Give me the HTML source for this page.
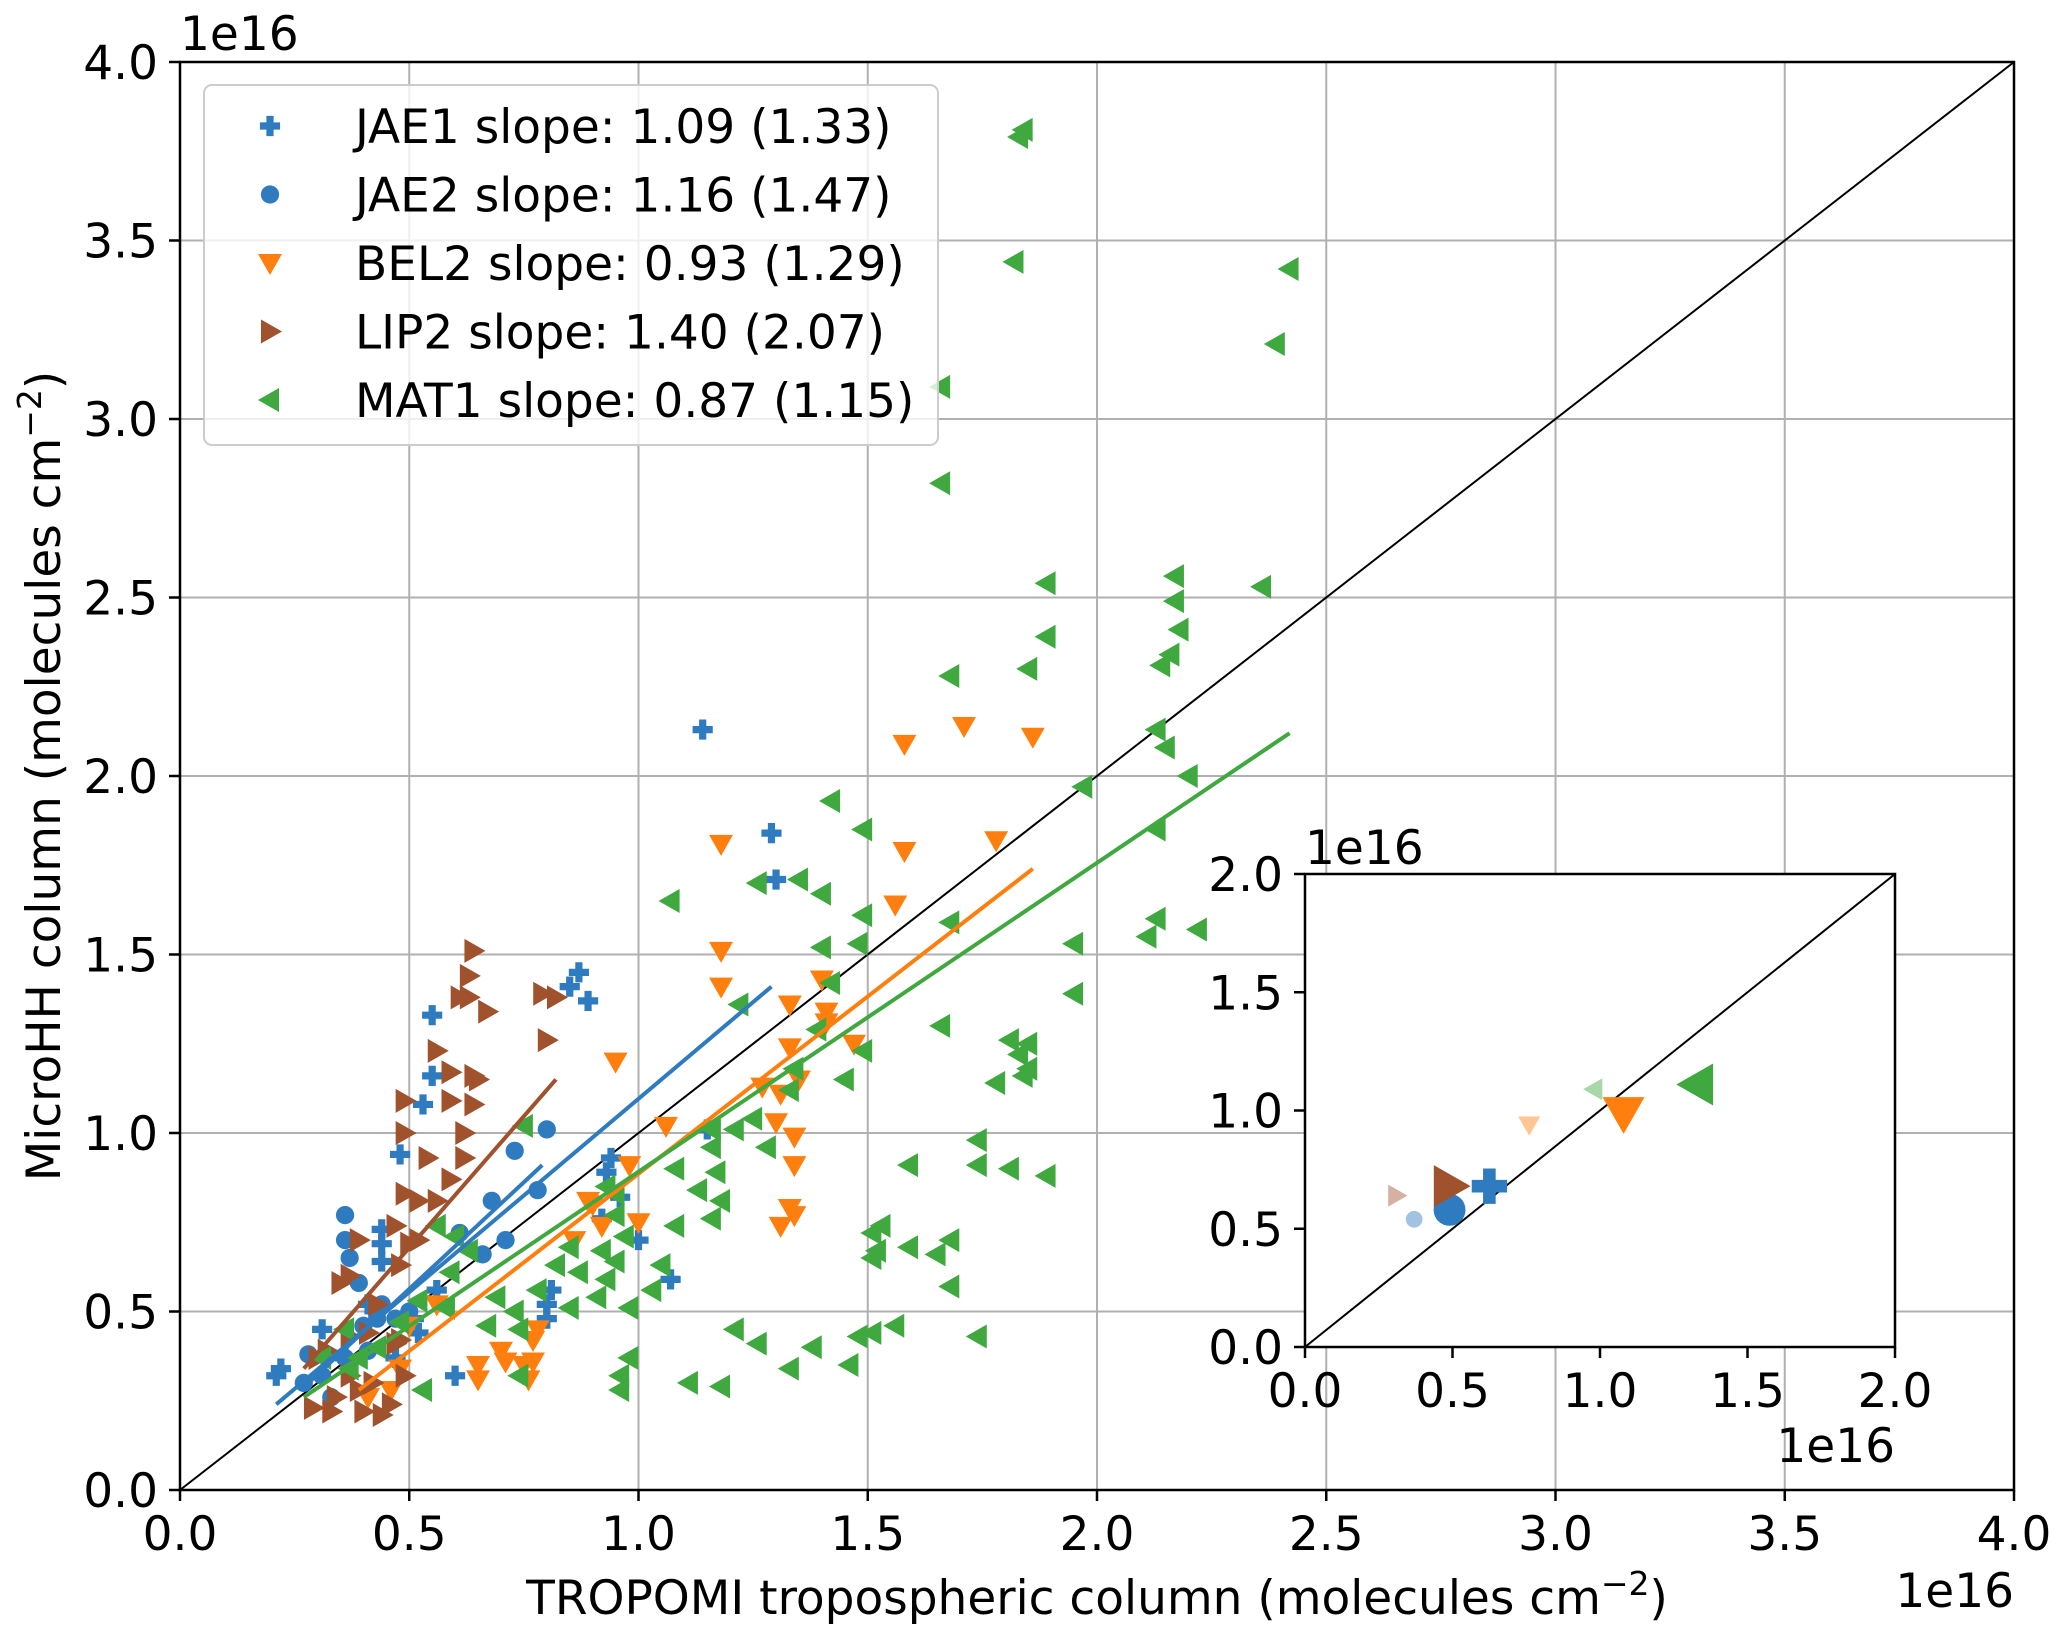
<!DOCTYPE html>
<html><head><meta charset="utf-8"><style>
body{margin:0;background:#fff}
svg{display:block;font-family:"DejaVu Sans","Liberation Sans",sans-serif}
</style></head><body>
<svg id="chart" width="2067" height="1643" viewBox="0 0 2067 1643" xmlns="http://www.w3.org/2000/svg">
<rect width="2067" height="1643" fill="#fff"/>
<g id="main"></g>
<g id="inset"></g>
</svg>
<script>
const ticks = [0,0.5,1.0,1.5,2.0,2.5,3.0,3.5,4.0];
const insetTicks = [0,0.5,1.0,1.5,2.0];
const jae1X=[1.14,1.29,1.30,0.87,0.85,0.89,0.55,0.55,0.53,0.48,1.15,0.94,0.93,0.96,0.92,1.00,0.44,0.44,0.44,0.60,1.07,0.81,0.80,0.80,0.21,0.22,0.36,0.47,0.52,0.31,0.41,0.56,0.51];
const jae1Y=[2.13,1.84,1.71,1.45,1.41,1.37,1.33,1.16,1.08,0.94,1.01,0.93,0.89,0.82,0.76,0.70,0.73,0.69,0.64,0.32,0.59,0.56,0.52,0.48,0.32,0.34,0.37,0.37,0.44,0.45,0.52,0.56,0.48];
const jae2X=[0.80,0.73,0.78,0.68,0.36,0.36,0.61,0.71,0.66,0.37,0.39,0.44,0.43,0.40,0.47,0.50,0.36,0.28,0.31,0.27,0.33,0.41];
const jae2Y=[1.01,0.95,0.84,0.81,0.77,0.70,0.72,0.70,0.66,0.65,0.58,0.52,0.48,0.46,0.48,0.50,0.37,0.38,0.32,0.30,0.26,0.39];
const bel2X=[1.71,1.86,1.58,1.78,1.18,1.58,1.56,1.18,1.18,1.40,1.33,1.41,1.41,1.33,1.47,0.95,1.35,1.27,1.31,1.30,1.06,0.98,0.89,1.34,1.34,1.33,1.34,1.31,0.92,0.90,0.86,0.70,0.65,0.71,0.76,0.77,0.77,0.56,0.50,0.48,0.46,0.41,0.78,0.75,0.65,1.00];
const bel2Y=[2.14,2.11,2.09,1.82,1.81,1.79,1.64,1.51,1.41,1.43,1.36,1.34,1.31,1.24,1.25,1.20,1.15,1.13,1.11,1.03,1.02,0.91,0.81,0.99,0.91,0.79,0.77,0.74,0.74,0.80,0.70,0.39,0.31,0.36,0.31,0.36,0.42,0.52,0.46,0.34,0.28,0.26,0.45,0.35,0.35,0.75];
const lip2X=[0.64,0.63,0.63,0.61,0.79,0.82,0.67,0.80,0.56,0.59,0.64,0.65,0.49,0.64,0.59,0.49,0.62,0.54,0.62,0.59,0.56,0.52,0.49,0.47,0.52,0.50,0.39,0.37,0.35,0.48,0.43,0.48,0.41,0.37,0.30,0.37,0.29,0.33,0.40,0.44,0.46,0.34,0.39,0.47,0.49,0.42,0.32];
const lip2Y=[1.51,1.44,1.38,1.38,1.39,1.38,1.34,1.26,1.23,1.17,1.16,1.15,1.09,1.08,1.09,1.00,1.00,0.93,0.93,0.87,0.81,0.81,0.83,0.74,0.70,0.69,0.70,0.60,0.58,0.63,0.52,0.42,0.44,0.43,0.37,0.32,0.23,0.22,0.22,0.21,0.24,0.26,0.28,0.41,0.32,0.30,0.39];
const mat1X=[1.84,1.83,1.82,2.42,2.39,1.66,1.66,1.89,2.36,2.17,1.89,2.17,2.18,2.16,2.14,1.68,1.85,2.13,2.15,2.20,1.97,1.42,1.49,1.07,1.26,1.40,1.35,2.13,2.13,1.49,2.22,2.11,1.95,1.68,1.40,1.48,1.95,1.42,1.22,1.39,1.66,1.49,1.34,1.45,1.81,1.85,1.83,1.85,1.84,1.78,1.33,1.25,1.16,1.21,1.28,1.74,1.74,1.81,1.89,1.59,1.17,1.08,1.13,1.18,1.16,1.08,0.95,0.93,0.95,0.97,0.92,0.95,0.85,0.82,1.05,0.87,0.93,0.78,0.73,0.74,0.67,0.69,0.58,0.52,0.48,0.43,0.39,0.31,0.37,0.53,1.51,1.53,1.52,1.51,1.59,1.68,1.65,1.74,1.56,1.51,1.48,1.46,1.38,1.33,1.26,1.21,1.18,1.11,0.98,0.96,0.96,0.74,0.91,0.98,1.03,0.85,1.16,1.68,0.75,0.60,0.63,0.59,0.56,0.36];
const mat1Y=[3.81,3.79,3.44,3.42,3.21,3.09,2.82,2.54,2.53,2.56,2.39,2.49,2.41,2.34,2.31,2.28,2.30,2.13,2.08,2.00,1.97,1.93,1.85,1.65,1.70,1.67,1.71,1.85,1.60,1.61,1.57,1.55,1.53,1.59,1.52,1.53,1.39,1.42,1.36,1.29,1.30,1.23,1.18,1.15,1.26,1.25,1.22,1.18,1.16,1.14,1.12,1.04,1.01,1.01,0.96,0.98,0.91,0.90,0.88,0.91,0.89,0.90,0.84,0.81,0.76,0.74,0.83,0.85,0.77,0.71,0.67,0.64,0.68,0.63,0.63,0.61,0.59,0.56,0.50,0.45,0.46,0.54,0.51,0.53,0.47,0.40,0.37,0.37,0.34,0.28,0.72,0.74,0.67,0.65,0.68,0.70,0.66,0.43,0.46,0.44,0.43,0.35,0.40,0.34,0.41,0.45,0.29,0.30,0.37,0.28,0.32,0.32,0.54,0.51,0.56,0.51,0.96,0.57,1.02,0.71,0.67,0.61,0.74,0.45];
const fitJae1X=[0.21,1.29], fitJae1Y=[0.24,1.41];
const fitJae2X=[0.28,0.79], fitJae2Y=[0.30,0.91];
const fitBel2X=[0.39,1.86], fitBel2Y=[0.28,1.74];
const fitLip2X=[0.27,0.82], fitLip2Y=[0.34,1.15];
const fitMat1X=[0.27,2.42], fitMat1Y=[0.26,2.12];
const insetX=[0.37,0.31,0.76,0.98, 0.625,0.49,0.49,1.08,1.33];
const insetY=[0.54,0.64,0.94,1.09, 0.68,0.58,0.68,0.99,1.11];
const insetSeries=['jae2','lip2','bel2','mat1','jae1','jae2','lip2','bel2','mat1'];
const insetBig=[0,0,0,0,1,1,1,1,1];

const NS='http://www.w3.org/2000/svg';
const FS=47;
const COL={jae1:'#2f7bbf',jae2:'#2f7bbf',bel2:'#ff7f0e',lip2:'#a0522d',mat1:'#3fa83f'};
function el(tag,attrs,parent){const e=document.createElementNS(NS,tag);for(const k in attrs)e.setAttribute(k,attrs[k]);parent.appendChild(e);return e;}
function mx(v){return 180+v*(2014-180)/4;}
function my(v){return 1490-v*(1490-62)/4;}
function ix(v){return 1305+v*(1895-1305)/2;}
function iy(v){return 1347-v*(1347-874)/2;}
function marker(kind,cx,cy,s,parent,op){
  const c=COL[kind];let e;
  if(kind==='jae1'){const a=s*0.42,b=s*0.15;
    e=el('path',{d:`M${cx-b},${cy-a}h${2*b}v${a-b}h${a-b}v${2*b}h${b-a}v${a-b}h${-2*b}v${b-a}h${b-a}v${-2*b}h${a-b}z`,fill:c},parent);}
  else if(kind==='jae2'){e=el('circle',{cx:cx,cy:cy,r:s*0.38,fill:c},parent);}
  else if(kind==='bel2'){const r=s*0.5;e=el('polygon',{points:`${cx-r},${cy-r*0.75} ${cx+r},${cy-r*0.75} ${cx},${cy+r}`,fill:c},parent);}
  else if(kind==='lip2'){const r=s*0.5;e=el('polygon',{points:`${cx-r*0.75},${cy-r} ${cx-r*0.75},${cy+r} ${cx+r},${cy}`,fill:c},parent);}
  else {const r=s*0.5;e=el('polygon',{points:`${cx+r*0.75},${cy-r} ${cx+r*0.75},${cy+r} ${cx-r},${cy}`,fill:c},parent);}
  if(op!==undefined)e.setAttribute('opacity',op);
  return e;
}
const main=document.getElementById('main');
ticks.forEach(t=>{
  const g1=el('line',{x1:mx(t),x2:mx(t),y1:62,y2:1490,stroke:'#b0b0b0','stroke-width':2},main);
  
  
  const g2=el('line',{x1:180,x2:2014,y1:my(t),y2:my(t),stroke:'#b0b0b0','stroke-width':2},main);
  
  
});
const one=el('line',{x1:mx(0),y1:my(0),x2:mx(4),y2:my(4),stroke:'#000','stroke-width':2},main);


const series=[['jae1',jae1X,jae1Y],['jae2',jae2X,jae2Y],['bel2',bel2X,bel2Y],['lip2',lip2X,lip2Y],['mat1',mat1X,mat1Y]];
series.forEach(([k,X,Y])=>{
  const g=el('g',{},main);
  
  
  X.forEach((x,i)=>{const m=marker(k,mx(x),my(Y[i]),24,g);
    
    });
});
[['jae1',fitJae1X,fitJae1Y],['jae2',fitJae2X,fitJae2Y],['bel2',fitBel2X,fitBel2Y],['lip2',fitLip2X,fitLip2Y],['mat1',fitMat1X,fitMat1Y]].forEach(([k,X,Y])=>{
  const l=el('line',{x1:mx(X[0]),y1:my(Y[0]),x2:mx(X[1]),y2:my(Y[1]),stroke:COL[k],'stroke-width':4},main);
  
  
});
const frame=el('rect',{x:180,y:62,width:1834,height:1428,fill:'none',stroke:'#000','stroke-width':2.5},main);


ticks.forEach(t=>{
  el('line',{x1:mx(t),x2:mx(t),y1:1490,y2:1501,stroke:'#000','stroke-width':2.5},main);
  el('line',{x1:169,x2:180,y1:my(t),y2:my(t),stroke:'#000','stroke-width':2.5},main);
  const xl=el('text',{x:mx(t),y:1550,'font-size':FS,'text-anchor':'middle'},main);xl.textContent=t.toFixed(1);
  
  
  const yl=el('text',{x:158,y:my(t)+17,'font-size':FS,'text-anchor':'end'},main);yl.textContent=t.toFixed(1);
  
  
});
const lg=el('g',{},main);


el('rect',{x:204,y:85,width:734,height:360,rx:8,fill:'#fff','fill-opacity':0.8,stroke:'#cccccc','stroke-width':2},lg);
const labels=['JAE1 slope: 1.09 (1.33)','JAE2 slope: 1.16 (1.47)','BEL2 slope: 0.93 (1.29)','LIP2 slope: 1.40 (2.07)','MAT1 slope: 0.87 (1.15)'];
const keys=['jae1','jae2','bel2','lip2','mat1'];
labels.forEach((s,i)=>{
  const y=126+i*68.5;
  const m=marker(keys[i],270,y,24,lg);
  
  
  const t=el('text',{x:355,y:y+17,'font-size':FS},lg);t.textContent=s;
  
  
});
</script>
<script>
(function(){
const main=document.getElementById('main');
function txt(s,attrs,name){const t=document.createElementNS(NS,'text');for(const k in attrs)t.setAttribute(k,attrs[k]);t.textContent=s;
  
  
  main.appendChild(t);return t;}
txt('1e16',{x:180,y:50,'font-size':FS},'y-offset-label');
txt('1e16',{x:2014,y:1607,'font-size':FS,'text-anchor':'end'},'x-offset-label');
const xt=txt('',{x:1097,y:1614,'font-size':FS,'text-anchor':'middle'},'x-axis-title');
xt.innerHTML='TROPOMI tropospheric column (molecules cm<tspan dy="-19" font-size="33">−2</tspan><tspan dy="19">)</tspan>';
const yt=txt('',{x:0,y:0,'font-size':FS,'text-anchor':'middle',transform:'translate(60,776) rotate(-90)'},'y-axis-title');
yt.innerHTML='MicroHH column (molecules cm<tspan dy="-19" font-size="33">−2</tspan><tspan dy="19">)</tspan>';
const ins=document.getElementById('inset');


el('rect',{x:1305,y:874,width:590,height:473,fill:'#fff'},ins);
const d=el('line',{x1:ix(0),y1:iy(0),x2:ix(2),y2:iy(2),stroke:'#000','stroke-width':2},ins);


insetX.forEach((x,i)=>{
  const big=insetBig[i];
  const m=marker(insetSeries[i],ix(x),iy(insetY[i]),big?42:22,ins,big?1:0.45);
  
  
});
el('rect',{x:1305,y:874,width:590,height:473,fill:'none',stroke:'#000','stroke-width':2.5},ins);
insetTicks.forEach(t=>{
  el('line',{x1:ix(t),x2:ix(t),y1:1347,y2:1358,stroke:'#000','stroke-width':2.5},ins);
  el('line',{x1:1294,x2:1305,y1:iy(t),y2:iy(t),stroke:'#000','stroke-width':2.5},ins);
  const a=el('text',{x:ix(t),y:1407,'font-size':FS,'text-anchor':'middle'},ins);a.textContent=t.toFixed(1);
  
  
  const b=el('text',{x:1283,y:iy(t)+17,'font-size':FS,'text-anchor':'end'},ins);b.textContent=t.toFixed(1);
  
  
});
const o1=el('text',{x:1305,y:864,'font-size':FS},ins);o1.textContent='1e16';


const o2=el('text',{x:1895,y:1462,'font-size':FS,'text-anchor':'end'},ins);o2.textContent='1e16';


})();
</script>
</body></html>
